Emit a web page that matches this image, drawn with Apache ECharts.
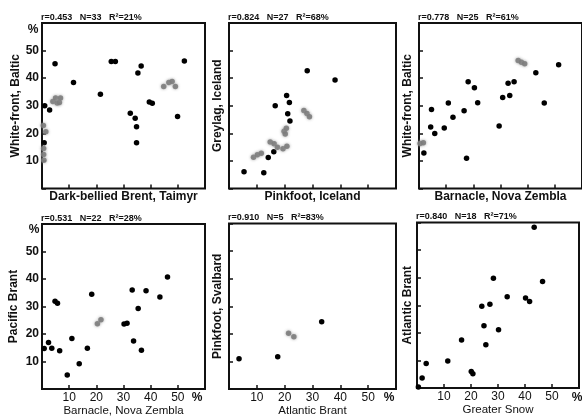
<!DOCTYPE html>
<html>
<head>
<meta charset="utf-8">
<script src="https://cdn.jsdelivr.net/npm/echarts@6.0.0/dist/echarts.min.js"></script>
<style>
  html, body { margin: 0; padding: 0; background: #fff; }
  #chart { width: 582px; height: 418px; }
</style>
</head>
<body>
<div id="chart"></div>
<script>
  // axis range shared by all six panels (percent)
  const axisMin = 0
  const axisMax = 60
  const axisStep = 10

  // panel texts
  const statR = ['0.453', '0.824', '0.778', '0.531', '0.910', '0.840']
  const statN = [33, 27, 25, 22, 5, 18]
  const statR2 = [21, 68, 61, 28, 83, 71]
  const xNames = ['Dark-bellied Brent, Taimyr', 'Pinkfoot, Iceland', 'Barnacle, Nova Zembla',
    'Barnacle, Nova Zembla', 'Atlantic Brant', 'Greater Snow']
  const yNames = ['White-front, Baltic', 'Greylag, Iceland', 'White-front, Baltic',
    'Pacific Brant', 'Pinkfoot, Svalbard', 'Atlantic Brant']

  // points [x, y]; "faint" ones are the smudged grey dots
  const p1Dark = [[0.8, 16.6], [1.0, 30.0], [2.8, 28.5], [4.8, 45.2], [11.6, 38.4], [21.5, 34.2],
    [25.5, 46.0], [27.0, 46.0], [32.5, 27.3], [34.3, 25.5], [34.8, 22.4], [34.8, 16.6],
    [35.3, 41.9], [36.5, 44.4], [39.5, 31.4], [40.6, 30.9], [49.9, 26.1], [52.4, 46.2]]
  const p1Faint = [[0.5, 22.8], [1.4, 20.6], [0.6, 14.5], [0.6, 12.3], [0.7, 10.2], [4.0, 31.5],
    [5.0, 32.8], [5.6, 31.0], [6.4, 31.2], [6.8, 32.8], [44.8, 37.0], [46.7, 38.4],
    [47.9, 38.8], [49.1, 37.0]]
  const p2Dark = [[5.4, 6.1], [12.5, 5.7], [14.1, 11.2], [16.1, 13.3], [16.6, 30.0], [20.7, 33.7],
    [21.7, 31.2], [21.1, 27.1], [21.9, 24.5], [28.1, 42.7], [38.1, 39.3]]
  const p2Faint = [[8.8, 11.3], [10.2, 12.2], [11.6, 12.8], [14.8, 16.9], [16.2, 16.2], [17.4, 15.0],
    [19.4, 14.4], [20.8, 15.3], [19.8, 20.8], [20.6, 21.8], [20.2, 19.8], [26.9, 28.3],
    [28.0, 27.2], [28.9, 26.0]]
  const p3Dark = [[1.8, 12.9], [4.3, 22.3], [4.6, 28.6], [5.8, 19.9], [9.3, 21.9], [10.8, 31.0],
    [12.5, 25.8], [16.6, 28.2], [17.5, 11.0], [18.1, 38.7], [20.4, 36.5], [21.6, 31.1],
    [29.5, 22.7], [30.8, 33.0], [32.8, 38.2], [33.4, 33.7], [35.0, 38.7], [43.0, 42.0],
    [46.1, 31.0], [51.4, 44.9]]
  const p3Faint = [[0.4, 16.3], [1.6, 16.6], [36.5, 46.4], [37.7, 45.8], [38.9, 45.2]]
  const p4Dark = [[0.8, 14.7], [2.4, 16.9], [3.6, 14.8], [4.8, 31.9], [5.7, 31.2], [6.5, 13.9],
    [9.3, 5.1], [11.0, 18.4], [13.7, 9.2], [16.7, 14.8], [18.3, 34.5], [30.2, 23.6],
    [31.3, 23.9], [33.2, 36.0], [33.7, 17.5], [35.4, 29.3], [36.6, 14.1], [38.3, 35.7],
    [43.4, 33.5], [46.2, 40.7]]
  const p4Faint = [[20.4, 23.7], [21.7, 25.2]]
  const p5Dark = [[3.6, 11.0], [17.5, 11.7], [33.3, 24.4]]
  const p5Faint = [[21.4, 20.2], [23.3, 18.9]]
  const p6Dark = [[0.5, 0.4], [1.9, 3.6], [3.4, 8.9], [11.4, 9.8], [16.5, 17.4], [20.1, 6.0],
    [20.7, 5.2], [24.0, 29.6], [24.8, 22.6], [25.5, 15.7], [27.0, 30.4], [28.3, 39.8],
    [30.2, 21.1], [33.4, 33.1], [40.2, 32.6], [41.7, 31.4], [43.4, 58.3], [46.5, 38.6]]
  const p6Faint = []

  const darkSets = [p1Dark, p2Dark, p3Dark, p4Dark, p5Dark, p6Dark]
  const faintSets = [p1Faint, p2Faint, p3Faint, p4Faint, p5Faint, p6Faint]

  // panel boxes in pixels
  const boxes = [
    { left: 42, top: 23, width: 163, height: 165.5 },
    { left: 229, top: 23, width: 167, height: 165.5 },
    { left: 419, top: 23, width: 166, height: 165.5 },
    { left: 42, top: 224, width: 163, height: 165.5 },
    { left: 229, top: 223.5, width: 167, height: 165.5 },
    { left: 417, top: 222.5, width: 166, height: 165.5 }
  ]
  const yNameGaps = [19, 5, 5, 22, 5, 3]

  const font = "'Liberation Sans', Arial, Helvetica, sans-serif"
  const ink = '#111'

  const myChart = echarts.init(document.getElementById('chart'), null, { renderer: 'canvas' })

  const grid = boxes.map(b => ({
    left: b.left, top: b.top, width: b.width, height: b.height,
    show: true, borderColor: ink, borderWidth: 2, backgroundColor: 'transparent'
  }))

  const xAxis = boxes.map((b, i) => ({
    gridIndex: i, type: 'value', min: axisMin, max: axisMax, interval: axisStep,
    name: xNames[i], nameLocation: 'middle', nameGap: i < 3 ? 2 : 16,
    nameTextStyle: {
      color: ink, fontFamily: font, fontSize: i < 3 ? 12 : 11.5, fontWeight: i < 3 ? 'bold' : 'normal'
    },
    axisLine: { show: false },
    axisTick: { show: true, inside: true, length: 4, lineStyle: { color: ink, width: 1.5 } },
    axisLabel: {
      show: i >= 3, margin: 3, color: ink, fontFamily: font, fontSize: 12,
      formatter: v => (v > axisMin && v < axisMax ? String(v) : '')
    },
    splitLine: { show: false }
  }))

  const yAxis = boxes.map((b, i) => ({
    gridIndex: i, type: 'value', min: axisMin, max: axisMax, interval: axisStep,
    name: yNames[i], nameLocation: 'middle', nameGap: yNameGaps[i],
    nameTextStyle: { color: ink, fontFamily: font, fontSize: 12, fontWeight: 'bold' },
    axisLine: { show: false },
    axisTick: { show: true, inside: true, length: 4, lineStyle: { color: ink, width: 1.5 } },
    axisLabel: {
      show: i % 3 === 0, margin: 3, color: ink, fontFamily: font, fontSize: 12, fontWeight: 'bold',
      formatter: v => (v > axisMin && v < axisMax ? String(v) : '')
    },
    splitLine: { show: false }
  }))

  const title = boxes.map((b, i) => ({
    text: 'r=' + statR[i] + '   N=' + statN[i] + '   R\u00b2=' + statR2[i] + '%',
    left: b.left - 1, top: b.top - 10,
    padding: 0,
    textStyle: { color: ink, fontFamily: font, fontSize: 9, fontWeight: 'bold' }
  }))

  const series = []
  boxes.forEach((b, i) => {
    series.push({
      type: 'scatter', xAxisIndex: i, yAxisIndex: i, symbolSize: 5.5,
      itemStyle: { color: '#000', opacity: 1 },
      data: darkSets[i]
    })
    series.push({
      type: 'scatter', xAxisIndex: i, yAxisIndex: i, symbolSize: 5.5,
      itemStyle: { color: '#7a7a7a', shadowBlur: 3, shadowColor: '#999', opacity: 0.85 },
      data: faintSets[i]
    })
  })

  // the "%" unit marks near the axis ends
  const pct = (x, y) => ({
    type: 'text', x: x, y: y,
    style: { text: '%', fill: ink, font: 'bold 12px ' + font, textAlign: 'center', textVerticalAlign: 'middle' }
  })

  const option = {
    animation: false,
    backgroundColor: '#fff',
    title: title,
    grid: grid,
    xAxis: xAxis,
    yAxis: yAxis,
    series: series,
    graphic: [pct(33, 30), pct(34, 230), pct(197, 398), pct(389, 398), pct(577, 398)]
  }
  myChart.setOption(option)
</script>
</body>
</html>
